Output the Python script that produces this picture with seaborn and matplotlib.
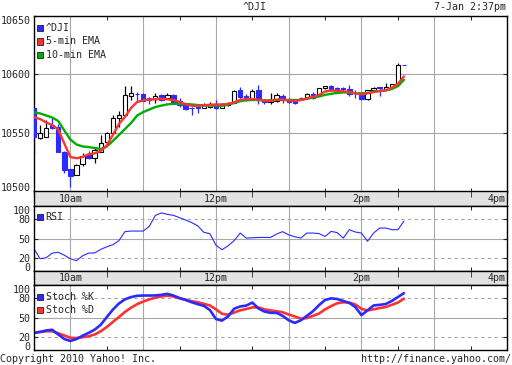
import numpy as np
import matplotlib
matplotlib.use("Agg")
import matplotlib.pyplot as plt
from matplotlib.patches import Rectangle
import seaborn as sns

# 5-minute bars, minutes after the 9:30 open (9:30 .. 2:35pm)
bar_minutes = np.arange(0, 306, 5)

opens = [10571, 10545.5, 10547, 10557, 10555.4, 10534, 10519, 10514, 10523.5, 10532,
         10529, 10534, 10542, 10550, 10562.6, 10565.4, 10581.3, 10583.4, 10583.5, 10579.5,
         10579, 10582.5, 10579.7, 10582.5, 10577.5, 10575, 10571.4, 10572, 10571, 10572.5,
         10574.5, 10571.5, 10574, 10576, 10587, 10582, 10579, 10587, 10578.2, 10576.2,
         10577.6, 10582, 10579, 10577.6, 10580, 10580.5, 10583.3, 10582.5, 10588.2, 10590.4,
         10588.7, 10588.5, 10587.6, 10584.2, 10584.4, 10578.8, 10586.8, 10589, 10587.4, 10589,
         10591.6, 10608.3]
highs = [10571.5, 10556.8, 10561, 10562.5, 10557.7, 10535, 10519.5, 10523.5, 10532.6, 10534.5,
         10537, 10548, 10551, 10565, 10568.5, 10590, 10590, 10585, 10584, 10580.5,
         10584, 10583, 10584, 10583, 10579.5, 10575.5, 10572.5, 10572.5, 10575.4, 10576.8,
         10578, 10575.4, 10576.5, 10586.5, 10589, 10583, 10588, 10591, 10578.5, 10584.4,
         10584, 10583.5, 10579.5, 10578, 10581, 10584.5, 10585.3, 10588.5, 10590.5, 10591,
         10589.6, 10589.6, 10591, 10586.8, 10584.5, 10587, 10589.6, 10589.6, 10593, 10592,
         10609.5, 10608.3]
lows = [10532.5, 10545, 10546.5, 10553, 10534, 10516, 10504, 10514, 10521.7, 10528,
        10524, 10534, 10540, 10549, 10555.5, 10565, 10578, 10577, 10577, 10575,
        10575.5, 10577, 10579, 10575, 10572.5, 10569.5, 10565, 10567, 10571, 10571,
        10570.5, 10571, 10573.5, 10575.5, 10579, 10577, 10578, 10574.5, 10574.5, 10574.5,
        10576.8, 10576, 10576, 10575, 10578, 10579.7, 10579, 10582, 10588, 10587,
        10584, 10586, 10582, 10579.7, 10578.5, 10578.5, 10585, 10581.9, 10587, 10588.5,
        10591, 10608]
closes = [10547, 10549.8, 10554.5, 10554.5, 10534, 10518.5, 10513.5, 10523, 10530.6, 10528.5,
          10535.5, 10541.2, 10549.8, 10562.6, 10565.4, 10582.5, 10584.2, 10583, 10577.5, 10578,
          10581.6, 10578, 10582.5, 10576, 10574, 10570.3, 10571, 10571.6, 10574, 10574.8,
          10571, 10575, 10576, 10586, 10581, 10579, 10586, 10578.2, 10576.2, 10578.2,
          10582.5, 10578.2, 10576.2, 10575.4, 10579.5, 10583.3, 10579.7, 10588.2, 10590.4, 10587.6,
          10585.3, 10588, 10583.3, 10583.8, 10578.8, 10586.8, 10588.7, 10588.7, 10589.6, 10591.6,
          10608, 10608]

ema5 = [10563.5, 10562, 10559, 10556.8, 10553, 10541, 10529.5, 10528.4, 10529.5, 10531.8,
        10532.6, 10534.6, 10539.3, 10548.3, 10557.7, 10563.7, 10571.4, 10576.5, 10577.8, 10578.5,
        10578.9, 10579.1, 10578.8, 10578.2, 10576.5, 10574.5, 10573.3, 10573.1, 10573.7, 10574.1,
        10574.4, 10574.4, 10574.8, 10576.2, 10578.2, 10579.1, 10579.1, 10578.5, 10577.6, 10577.6,
        10578.5, 10578.6, 10577.8, 10577.4, 10578.2, 10579.7, 10580.8, 10582.5, 10585.5, 10586.2,
        10586.1, 10585.6, 10585.2, 10583.9, 10583, 10583.9, 10585, 10585.9, 10586.5, 10588.5,
        10592, 10598.3]
ema10 = [10567.7, 10566.7, 10565, 10563.2, 10560.3, 10552.1, 10544.4, 10540.2, 10538.5, 10538,
         10537.2, 10536.3, 10538.5, 10543.2, 10548.3, 10553.4, 10558.5, 10564.9, 10567.9, 10570,
         10572.2, 10573.4, 10574.5, 10574.9, 10574.9, 10574.8, 10574.4, 10573.9, 10573.5, 10573.5,
         10573.5, 10573.2, 10574.2, 10575.6, 10577.2, 10578, 10578.2, 10578.2, 10577.9, 10577.8,
         10578.2, 10578.3, 10578.2, 10578.2, 10578.3, 10579.2, 10580.3, 10581.2, 10582.6, 10583.5,
         10584.2, 10584.7, 10584.5, 10583.9, 10583.9, 10584.2, 10585.4, 10585.9, 10586.3, 10587.6,
         10590, 10595.4]

rsi = [34.5, 19, 20.5, 27.7, 29, 24.5, 19, 16, 23.5, 27.7,
       28, 33.5, 37.5, 40.7, 47, 61, 61.9, 61.9, 61.9, 69,
       86, 90, 87.8, 86.2, 82.6, 79, 75, 70, 60, 57.8,
       40, 33, 39, 47, 58.8, 51, 51.5, 52, 52, 52,
       57.3, 61, 56, 53, 51, 58.8, 58.8, 58, 53.6, 61.4,
       59.5, 51, 64, 60.4, 58.8, 46, 58.8, 66.6, 66.6, 64,
       64, 77]

stoch_k = [26.5, 28, 30.3, 31.3, 24, 17, 14, 17, 22, 26.5,
           31.5, 39, 51, 62.5, 72, 78.5, 82, 84, 84.4, 84.4,
           84.6, 85.5, 87, 84.3, 80.5, 77.5, 74, 71, 68.5, 62,
           48, 45.5, 52, 64, 67.5, 68.8, 73.5, 64.5, 59.5, 57.6,
           57.5, 53, 46, 42, 46, 53, 60, 69.5, 77.5, 80,
           79, 76, 73, 66.4, 54, 61.5, 69, 70, 71.2, 76,
           82, 88]
stoch_d = [26.5, 28, 29, 29, 26, 22.5, 19, 18.5, 19.8, 21.3,
           24, 29, 35.5, 43.5, 51, 59, 65.5, 71, 75, 78.5,
           81, 83, 84.2, 83, 80, 78, 75.5, 74, 71.5, 69,
           63, 56.2, 54.6, 58, 61.5, 63.5, 66, 66, 63, 61.3,
           60, 58.5, 55, 52, 48.5, 49.5, 53, 56.5, 63, 68,
           72.5, 74, 73.5, 70.5, 63.8, 61.3, 63, 65, 66.5, 70,
           73.5, 79.5]

hour_ticks = [30, 90, 150, 210, 270, 330]
half_ticks = [60, 120, 180, 240, 300, 360]
time_pos = [30, 150, 270]
time_text = ["10am", "12pm", "2pm"]

BLUE = "#2b2bff"
RED = "#ff3232"
GREEN = "#00ad00"
GRID = "#a8a8a8"

sns.set_style("white")
plt.rcParams["font.family"] = ["DejaVu Sans Mono"]
plt.rcParams["font.size"] = 7.2

W, H = 512, 365
fig = plt.figure(figsize=(W / 100, H / 100), dpi=100)


def box(x0, y0, x1, y1):
    return [x0 / W, 1 - y1 / H, (x1 - x0) / W, (y1 - y0) / H]


ax = fig.add_axes(box(34, 16, 507, 191.5))
strip1 = fig.add_axes(box(34, 191.5, 507, 205.5))
ax_rsi = fig.add_axes(box(34, 205.5, 507, 271))
strip2 = fig.add_axes(box(34, 271, 507, 284.5))
ax_st = fig.add_axes(box(34, 284.5, 507, 350))


def frame(a):
    a.set_xlim(0, 390)
    for s in a.spines.values():
        s.set_visible(True)
        s.set_color("black")
        s.set_linewidth(1.0)


def panel(a, yticks):
    frame(a)
    a.set_xticks(hour_ticks)
    a.set_xticklabels([])
    a.tick_params(axis="x", which="major", length=0)
    a.set_xticks(half_ticks, minor=True)
    a.tick_params(axis="x", which="minor", direction="in", length=3,
                  bottom=True, top=True, color="black")
    for h in hour_ticks:
        a.axvline(h, color=GRID, lw=0.8, zorder=0.5)
    a.set_yticks(yticks)
    a.tick_params(axis="y", direction="in", length=3, left=True, right=True,
                  pad=2.5, labelsize=7.2)


def edge_labels(a):
    # keep the end labels inside the panel, as the original does
    labels = a.get_yticklabels()
    labels[-1].set_va("top")
    labels[0].set_va("baseline")


# main price panel
panel(ax, [10500, 10550, 10600, 10650])
ax.set_ylim(10500, 10650)
for lvl in [10550, 10600]:
    ax.axhline(lvl, color=GRID, lw=0.8, zorder=0.5)

o = np.array(opens)
c = np.array(closes)
up = c > o
face = np.where(up, "white", BLUE)
edge = np.where(up, "black", BLUE)
ax.vlines(bar_minutes, lows, highs, colors=edge, lw=0.9, zorder=2)
ax.bar(bar_minutes, np.maximum(np.abs(c - o), 0.45), bottom=np.minimum(o, c),
       width=3.6, color=face, edgecolor=edge, lw=0.8, zorder=3)

sns.lineplot(x=bar_minutes, y=ema10, ax=ax, color=GREEN, lw=1.7, zorder=4, legend=False)
sns.lineplot(x=bar_minutes, y=ema5, ax=ax, color=RED, lw=1.7, zorder=5, legend=False)
ax.set_xlabel("")
ax.set_ylabel("")
edge_labels(ax)

# RSI panel
panel(ax_rsi, [0, 20, 50, 80, 100])
ax_rsi.set_ylim(0, 101.5)
ax_rsi.axhline(50, color=GRID, lw=0.8, zorder=0.5)
for lvl in [20, 80]:
    ax_rsi.axhline(lvl, color=GRID, lw=0.8, ls=(0, (3, 3)), zorder=0.5)
sns.lineplot(x=bar_minutes, y=rsi, ax=ax_rsi, color=BLUE, lw=0.8, legend=False)
ax_rsi.set_xlabel("")
ax_rsi.set_ylabel("")
edge_labels(ax_rsi)

# stochastic panel
panel(ax_st, [0, 20, 50, 80, 100])
ax_st.set_ylim(0, 101.5)
ax_st.axhline(50, color=GRID, lw=0.8, zorder=0.5)
for lvl in [20, 80]:
    ax_st.axhline(lvl, color=GRID, lw=0.8, ls=(0, (3, 3)), zorder=0.5)
sns.lineplot(x=bar_minutes, y=stoch_d, ax=ax_st, color=RED, lw=1.9, legend=False)
sns.lineplot(x=bar_minutes, y=stoch_k, ax=ax_st, color=BLUE, lw=1.9, legend=False)
ax_st.set_xlabel("")
ax_st.set_ylabel("")
edge_labels(ax_st)

# grey time strips
for s in [strip1, strip2]:
    frame(s)
    s.set_facecolor("#e2e2e2")
    s.set_ylim(0, 1)
    s.set_yticks([])
    s.set_xticks([])
    s.set_xticks(half_ticks, minor=True)
    s.tick_params(axis="x", which="minor", direction="in", length=4,
                  top=True, bottom=False, labelbottom=False)
    for p, t in zip(time_pos, time_text):
        s.text(p, 0.45, t, ha="center", va="center")
    s.text(389, 0.45, "4pm", ha="right", va="center")


def legend_row(y, color, label):
    fig.add_artist(Rectangle((37 / W, 1 - (y + 3) / H), 6 / W, 6 / H,
                             transform=fig.transFigure, facecolor=color,
                             edgecolor="#202020", lw=0.6))
    fig.text(45.5 / W, 1 - y / H, label, ha="left", va="center")


legend_row(28, BLUE, "^DJI")
legend_row(41.5, RED, "5-min EMA")
legend_row(55, GREEN, "10-min EMA")
legend_row(217, BLUE, "RSI")
legend_row(296.5, BLUE, "Stoch %K")
legend_row(310, RED, "Stoch %D")

fig.text(255 / W, 1 - 7.5 / H, "^DJI", ha="center", va="center")
fig.text(506 / W, 1 - 7.5 / H, "7-Jan 2:37pm", ha="right", va="center")
fig.text(0, 1 - 359.5 / H, "Copyright 2010 Yahoo! Inc.", ha="left", va="center")
fig.text(511 / W, 1 - 359.5 / H, "http://finance.yahoo.com/", ha="right", va="center")

fig.savefig("out.png", dpi=100)
